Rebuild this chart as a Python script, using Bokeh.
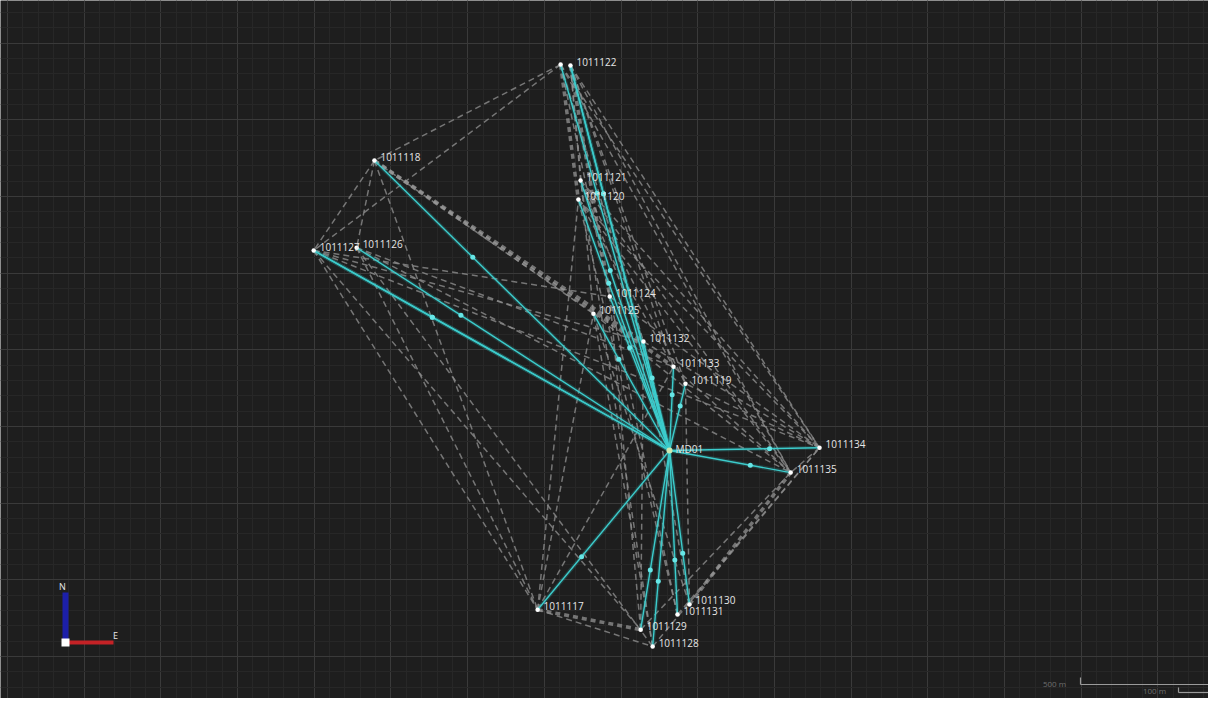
import numpy as np
from bokeh.plotting import figure
from bokeh.models import Grid, SingleIntervalTicker
from bokeh.embed import file_html
from bokeh.resources import INLINE
from bokeh.core.properties import value

# ---------------- data (local grid, metres) ----------------
station_names = ["1011122", "1011122", "1011118", "1011127", "1011126", "1011121",
                 "1011120", "1011124", "1011125", "1011132", "1011133", "1011119",
                 "1011134", "1011135", "1011117", "1011130", "1011131", "1011129",
                 "1011128"]
station_labels = ["", "1011122", "1011118", "1011127", "1011126", "1011121",
                  "1011120", "1011124", "1011125", "1011132", "1011133", "1011119",
                  "1011134", "1011135", "1011117", "1011130", "1011131", "1011129",
                  "1011128"]
station_east = [1803, 1835, 1196, 998, 1138, 1868, 1861, 1963, 1910, 2073, 2171,
                2210, 2647, 2553, 1728, 2223, 2184, 2064, 2103]
station_north = [1930, 1927, 1617, 1324, 1333, 1552, 1490, 1174, 1118, 1027, 945,
                 890, 681, 600, 153, 170, 137, 88, 33]

control_name = "MD01"
control_east = 2158
control_north = 672

# observed baselines from the control point (solid, by station index)
solid_targets = [0, 1, 1, 2, 3, 3, 4, 5, 6, 7, 8, 9, 10, 11, 12, 13, 14, 15, 16,
                 17, 18]

# other baselines (dashed), pairs of station indices
dashed_pairs = [(0, 2), (0, 3), (0, 12), (1, 13), (1, 11), (1, 10), (0, 9), (1, 5),
                (5, 12), (6, 13), (5, 11), (2, 3), (2, 4), (2, 14), (2, 8),
                (3, 14), (4, 14), (3, 12), (4, 13), (3, 17), (4, 18), (3, 7),
                (14, 18), (14, 8), (14, 6), (17, 13), (16, 12), (18, 12),
                (15, 11), (17, 7), (18, 5), (16, 6), (15, 9), (12, 13), (12, 11),
                (13, 10), (7, 12), (8, 13), (9, 12), (14, 10), (18, 8), (17, 9),
                (1, 12), (6, 12), (5, 13), (0, 7), (1, 8), (5, 9), (6, 10),
                (0, 13), (16, 7), (15, 8), (3, 9), (4, 10)]
thick_dashed_pairs = [(2, 10), (14, 17), (15, 13), (0, 6), (2, 9), (1, 7)]

# ---------------- layout helpers ----------------
W, H = 1208, 698
M_PER_PX = 3.26
X0 = -23.0
X1 = X0 + W * M_PER_PX
Y1 = 2139.0
Y0 = Y1 - H * M_PER_PX


def ex(px):
    return X0 + (px - 8) * M_PER_PX


def ny(py):
    return Y1 - (py - 8) * M_PER_PX


p = figure(width=W, height=H, x_range=(X0, X1), y_range=(Y0, Y1),
           output_backend="svg", toolbar_location=None,
           x_axis_type=None, y_axis_type=None,
           background_fill_color="#1e1e1e", border_fill_color="#1e1e1e",
           min_border=0, outline_line_color=None)

for dim in (0, 1):
    g = Grid(dimension=dim,
             ticker=SingleIntervalTicker(interval=250, num_minor_ticks=5),
             grid_line_color="#3a3a3a", grid_line_width=1,
             minor_grid_line_color="#272727", minor_grid_line_width=1)
    p.add_layout(g)

se = np.array(station_east, dtype=float)
sn = np.array(station_north, dtype=float)

# dashed baselines
da = [a for a, b in dashed_pairs]
db = [b for a, b in dashed_pairs]
p.segment(x0=se[da], y0=sn[da], x1=se[db], y1=sn[db],
          line_color="#8c8c8c", line_width=1.5, line_dash="6 4", line_alpha=0.8)
ta = [a for a, b in thick_dashed_pairs]
tb = [b for a, b in thick_dashed_pairs]
p.segment(x0=se[ta], y0=sn[ta], x1=se[tb], y1=sn[tb],
          line_color="#9a9a9a", line_width=3.5, line_dash="5 4", line_alpha=0.7)

# solid baselines from control point
tx = se[solid_targets]
ty = sn[solid_targets]
cx = np.full(len(solid_targets), control_east, dtype=float)
cy = np.full(len(solid_targets), control_north, dtype=float)
p.segment(x0=cx, y0=cy, x1=tx, y1=ty, line_color="#36c9c9", line_width=4,
          line_alpha=0.18)
p.segment(x0=cx, y0=cy, x1=tx, y1=ty, line_color="#3ccccc", line_width=1.4)
# direction markers, one third of the way from the station
mx = tx + (cx - tx) / 3.0
my = ty + (cy - ty) / 3.0
p.scatter(mx, my, marker="circle", size=5, fill_color="#66e6e6",
          line_color=None)

# stations
p.scatter(se, sn, marker="circle", size=4.5, fill_color="#ffffff", line_color=None)
p.scatter([control_east], [control_north], marker="circle", size=6,
          fill_color="#cfe8b0", line_color=None)

p.text(x=se, y=sn, text=station_labels, x_offset=6, y_offset=-4,
       text_font=value("Open Sans"), text_font_size="10px",
       text_color="#e6e6e6", text_baseline="middle", text_align="left")
p.text(x=[control_east], y=[control_north], text=[control_name], x_offset=6,
       y_offset=-2, text_font=value("Open Sans"), text_font_size="10px",
       text_color="#e6e6e6", text_baseline="middle", text_align="left")

# north/east indicator
p.segment(x0=[ex(73)], y0=[ny(650)], x1=[ex(73)], y1=[ny(600)],
          line_color="#1c1fa8", line_width=6, line_cap="butt")
p.segment(x0=[ex(73)], y0=[ny(650)], x1=[ex(121)], y1=[ny(650)],
          line_color="#c42226", line_width=4, line_cap="butt")
p.scatter([ex(73)], [ny(650)], marker="square", size=8, fill_color="#ffffff",
          line_color=None)
p.text(x=[ex(70), ex(123)], y=[ny(594), ny(643)], text=["N", "E"],
       text_font=value("Open Sans"), text_font_size="9px", text_color="#e6e6e6",
       text_baseline="middle", text_align="center")

# scale bar
p.segment(x0=[ex(1088), ex(1088), ex(1186), ex(1186)],
          y0=[ny(692), ny(685), ny(700), ny(695)],
          x1=[ex(1216), ex(1088), ex(1216), ex(1186)],
          y1=[ny(692), ny(692), ny(700), ny(700)],
          line_color="#9a9a9a", line_width=1.2)
p.text(x=[ex(1062), ex(1162)], y=[ny(691), ny(698)], text=["500 m", "100 m"],
       text_font=value("Open Sans"), text_font_size="8px", text_color="#6e6e6e",
       text_baseline="middle", text_align="center")

open("out.html", "w").write(file_html(p, INLINE))
